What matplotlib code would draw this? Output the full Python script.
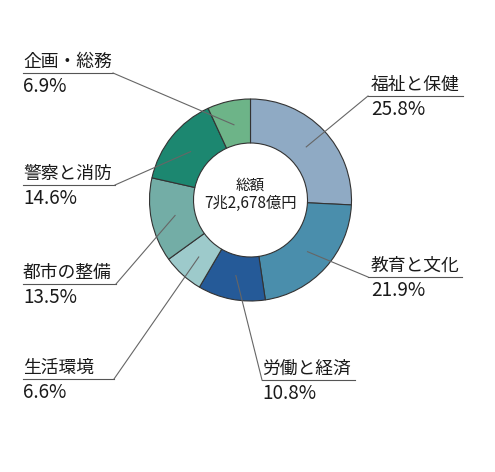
import numpy as np
import matplotlib
matplotlib.use("Agg")
import matplotlib.pyplot as plt

plt.rcParams['font.family'] = ['Noto Sans CJK JP', 'DejaVu Sans']

categories = ["福祉と保健", "教育と文化", "労働と経済", "生活環境", "都市の整備", "警察と消防", "企画・総務"]
shares = [25.8, 21.9, 10.8, 6.6, 13.5, 14.6, 6.9]
pct_labels = ["25.8%", "21.9%", "10.8%", "6.6%", "13.5%", "14.6%", "6.9%"]
colors = ["#8FAAC4", "#4A8EAC", "#255A98", "#9DCACB", "#73ADA6", "#1C8770", "#6DB488"]
center_title = "総額"
center_total = "7兆2,678億円"

W, H = 495, 472
fig = plt.figure(figsize=(W / 100, H / 100), dpi=100)
ax = fig.add_axes([0, 0, 1, 1])

cx, cy = 250.5, H - 200
R_out, R_in = 101, 57
wedges, _ = ax.pie(shares, colors=colors, startangle=90, counterclock=False,
                   center=(cx, cy), radius=R_out,
                   wedgeprops=dict(width=R_out - R_in, edgecolor="#333333", linewidth=0.8))
ax.set_xlim(0, W)
ax.set_ylim(0, H)
ax.set_aspect('auto')
ax.axis('off')

# label layout: (text x, underline x0, underline x1, underline y (pixel from top), leader-start side)
layout = [
    (371, 368, 463, 96, 'left'),
    (371, 368, 462, 277, 'left'),
    (262, 262, 355, 380, 'left'),
    (23, 23, 114, 379, 'right'),
    (23, 23, 116, 284, 'right'),
    (23, 23, 115, 185, 'right'),
    (23, 23, 113, 73, 'right'),
]

r_mid = (R_out + R_in) / 2 - 2
for w, name, pct, (tx, x0, x1, uy, side) in zip(wedges, categories, pct_labels, layout):
    ang = np.deg2rad((w.theta1 + w.theta2) / 2)
    px = cx + r_mid * np.cos(ang)
    py = cy + r_mid * np.sin(ang)
    y = H - uy
    ax.plot([x0, x1], [y, y], color="#555555", lw=0.8)
    sx = x0 if side == 'left' else x1
    ax.plot([sx, px], [y, py], color="#666666", lw=0.8)
    ax.text(tx, y + 6, name, fontsize=12.8, color="#1a1a1a", ha='left', va='baseline')
    ax.text(tx, y - 19, pct, fontsize=13.6, color="#1a1a1a", ha='left', va='baseline')

ax.text(cx, H - 190, center_title, fontsize=10.5, color="#1a1a1a", ha='center', va='baseline')
ax.text(cx, H - 208, center_total, fontsize=11, color="#1a1a1a", ha='center', va='baseline')

fig.savefig("out.png", dpi=100, facecolor="white")
